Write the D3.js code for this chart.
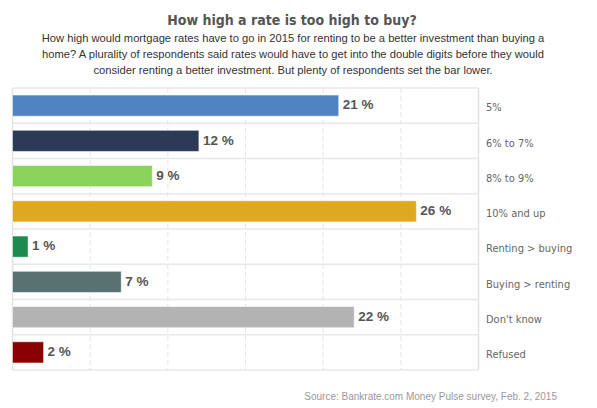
<!DOCTYPE html>
<html lang="en">
<head>
    <script src="https://d3js.org/d3.v7.min.js"></script>
    <style>
        body { margin: 0; background: #fff; }
    </style>
</head>
<body>
    <script>
        // data
        var categories = ["5%", "6% to 7%", "8% to 9%", "10% and up", "Renting > buying", "Buying > renting", "Don't know", "Refused"];
        var values = [21, 12, 9, 26, 1, 7, 22, 2];
        var colors = ["#5083c1", "#2d3a55", "#8bd35a", "#dfa91e", "#1f8a4d", "#587271", "#b3b3b3", "#8b0000"];
        var xTicks = [0, 5, 10, 15, 20, 25, 30];
        var subtitleLines = [
            "How high would mortgage rates have to go in 2015 for renting to be a better investment than buying a",
            "home? A plurality of respondents said rates would have to get into the double digits before they would",
            "consider renting a better investment. But plenty of respondents set the bar lower."
        ];

        const W = 597, H = 408;
        const plotL = 12.5, plotR = 478.5, plotT = 88, plotB = 370;

        const svg = d3.select("body").append("svg")
            .attr("width", W)
            .attr("height", H);

        // title + subtitle
        svg.append("text")
            .attr("x", 292).attr("y", 25)
            .attr("text-anchor", "middle")
            .style("font-family", "'DejaVu Sans Condensed', 'DejaVu Sans', sans-serif")
            .style("font-weight", "bold")
            .style("font-size", "14px")
            .style("fill", "#555")
            .text("How high a rate is too high to buy?");

        svg.selectAll("text.sub")
            .data(subtitleLines)
            .enter().append("text")
            .attr("class", "sub")
            .attr("x", 293)
            .attr("y", function(d, i) { return 42 + i * 16; })
            .attr("text-anchor", "middle")
            .style("font-family", "'Liberation Sans', Arial, sans-serif")
            .style("font-size", "11.2px")
            .style("fill", "#333")
            .text(function(d) { return d; });

        var x = d3.scaleLinear().domain([0, 30]).range([plotL, plotR]);
        var y = d3.scaleBand().domain(categories).range([plotT, plotB])
            .paddingInner(0.4).paddingOuter(0.2);
        var step = y.step();

        // vertical dashed grid
        svg.append("g").selectAll("line")
            .data(xTicks.slice(1, -1))
            .enter().append("line")
            .attr("x1", d => x(d)).attr("x2", d => x(d))
            .attr("y1", plotT).attr("y2", plotB)
            .attr("stroke", "#e4e4e4")
            .attr("stroke-dasharray", "5,3");

        // horizontal row separators
        var rowLines = categories.map(c => y(c) - step * 0.2).concat([plotB]);
        svg.append("g").selectAll("line")
            .data(rowLines)
            .enter().append("line")
            .attr("x1", plotL).attr("x2", plotR)
            .attr("y1", d => d).attr("y2", d => d)
            .attr("stroke", "#e8e8e8")
            .attr("stroke-width", 1.5);

        // side borders
        svg.append("g").selectAll("line")
            .data([0, 30])
            .enter().append("line")
            .attr("x1", d => x(d)).attr("x2", d => x(d))
            .attr("y1", plotT).attr("y2", plotB)
            .attr("stroke", "#e2e2e2")
            .attr("stroke-width", 1.5);

        // bars
        svg.append("g").selectAll("rect")
            .data(values)
            .enter().append("rect")
            .attr("x", x(0))
            .attr("y", (d, i) => y(categories[i]))
            .attr("width", d => x(d) - x(0))
            .attr("height", y.bandwidth())
            .attr("fill", (d, i) => colors[i])
            .attr("stroke", "rgba(255,255,255,0.5)")
            .attr("stroke-width", 1);

        // value labels
        svg.append("g").selectAll("text")
            .data(values)
            .enter().append("text")
            .attr("x", d => x(d) + 4)
            .attr("y", (d, i) => y(categories[i]) + y.bandwidth() / 2 - 1)
            .attr("dy", "0.35em")
            .style("font-family", "'Liberation Sans', Arial, sans-serif")
            .style("font-weight", "bold")
            .style("font-size", "13.5px")
            .style("fill", "#555")
            .style("paint-order", "stroke")
            .style("stroke", "#fff")
            .style("stroke-width", "2px")
            .text(d => d + " %");

        // category labels on the right
        svg.append("g").selectAll("text")
            .data(categories)
            .enter().append("text")
            .attr("x", 486)
            .attr("y", d => y(d) + y.bandwidth() / 2 + 2)
            .attr("dy", "0.35em")
            .style("font-family", "'DejaVu Sans Condensed', 'DejaVu Sans', sans-serif")
            .style("font-size", "11px")
            .style("fill", "#666")
            .text(d => d);

        // source
        svg.append("text")
            .attr("x", 557).attr("y", 400)
            .attr("text-anchor", "end")
            .style("font-family", "'Liberation Sans', Arial, sans-serif")
            .style("font-size", "10px")
            .style("fill", "#999")
            .text("Source: Bankrate.com Money Pulse survey, Feb. 2, 2015");
    </script>
</body>
</html>
